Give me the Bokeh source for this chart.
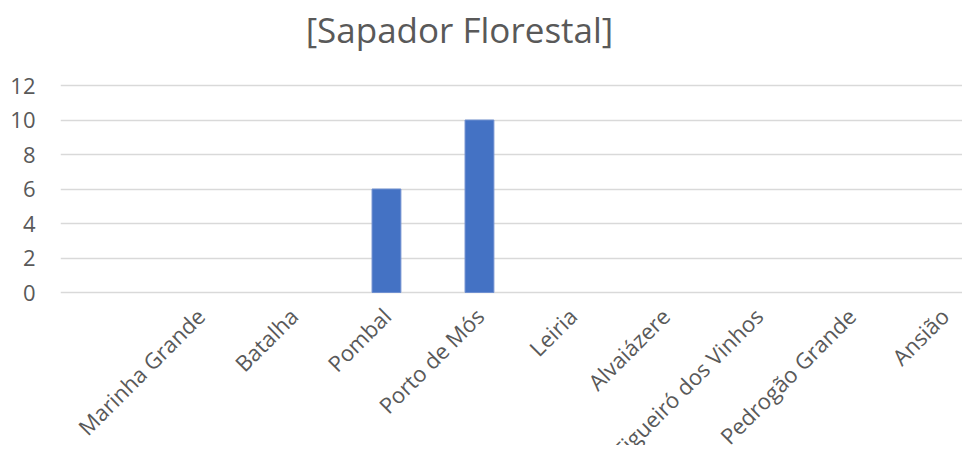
import math
from bokeh.plotting import figure
from bokeh.models import Range1d, FixedTicker, Label, LabelSet, ColumnDataSource
from bokeh.core.properties import value
from bokeh.embed import file_html
from bokeh.resources import INLINE

categories = ["Marinha Grande", "Batalha", "Pombal", "Porto de Mós", "Leiria",
              "Alvaiázere", "Figueiró dos Vinhos", "Pedrogão Grande", "Ansião"]
values = [0, 0, 6, 10, 0, 0, 0, 0, 0]
y_ticks = [0, 2, 4, 6, 8, 10, 12]
title_text = "[Sapador Florestal]"

FONT = "Open Sans"
TXT = "#595959"

idx = list(range(len(categories)))
bar_src = ColumnDataSource(dict(x=[i for i, v in zip(idx, values) if v != 0],
                                top=[v for v in values if v != 0]))
lab_src = ColumnDataSource(dict(x=idx, y=[-1.12] * len(idx), text=categories))

# The plotting frame spans the whole canvas (except the y-axis strip), so the
# title and the rotated category names are drawn inside it, through its scales.
p = figure(width=962, height=445, output_backend="svg", toolbar_location=None,
           x_range=Range1d(-1.505, 8.194), y_range=Range1d(-8.87, 16.93),
           min_border=0, min_border_left=60)

p.vbar(x="x", top="top", width=0.31, bottom=0, source=bar_src,
       fill_color="#4472C4", line_color="#6f8fd0", line_width=1)

p.xaxis.visible = False
p.xgrid.visible = False
p.ygrid.ticker = FixedTicker(ticks=y_ticks)
p.ygrid.grid_line_color = "#d9d9d9"
p.ygrid.grid_line_width = 1.5

ya = p.yaxis[0]
ya.ticker = FixedTicker(ticks=y_ticks)
ya.axis_line_color = None
ya.major_tick_line_color = None
ya.minor_tick_line_color = None
ya.major_tick_out = 0
ya.major_tick_in = 0
ya.major_label_text_font = FONT
ya.major_label_text_font_size = "22px"
ya.major_label_text_color = TXT
ya.major_label_standoff = 25

labels = LabelSet(x="x", y="y", text="text", source=lab_src, angle=math.pi / 4,
                  x_offset=0, text_align="right", text_baseline="middle",
                  text_font=value(FONT), text_font_size=value("22px"),
                  text_color=TXT)
p.add_layout(labels)

p.add_layout(Label(x=2.785, y=15.24, text=title_text, text_align="center",
                   text_baseline="alphabetic", text_font=FONT,
                   text_font_size="35px", text_color=TXT))

p.outline_line_color = None
p.background_fill_color = "white"
p.border_fill_color = "white"

open("out.html", "w").write(file_html(p, INLINE))
